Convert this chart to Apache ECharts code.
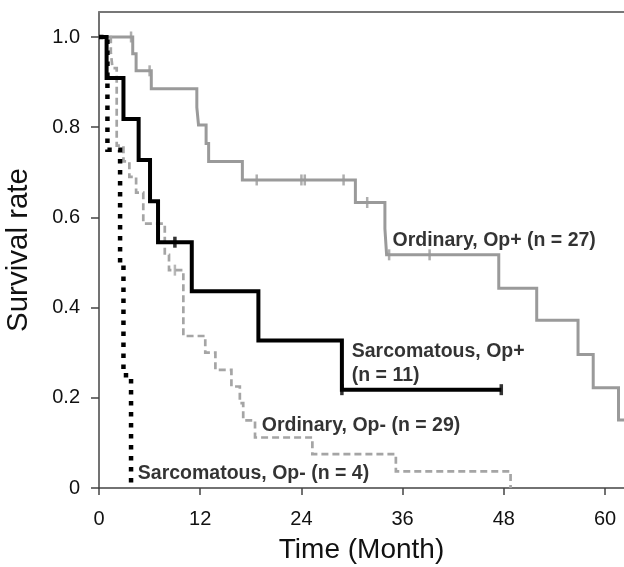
<!DOCTYPE html>
<html><head><meta charset="utf-8">
<script src="https://cdn.jsdelivr.net/npm/echarts@6/dist/echarts.min.js"></script>
<style>html,body{margin:0;padding:0;background:#fff}#c{width:624px;height:567px}</style>
</head><body><div id="c"></div>
<script>
// Ordinary, Op+ (n = 27) — gray solid
const ordPlusTimes = [0, 4.0, 4.4, 6.2, 11.6, 11.8, 12.7, 13.0, 17.0, 30.4, 33.9, 34.1, 47.4, 51.9, 56.8, 58.6, 61.6, 62.3];
const ordPlusSurv  = [1.0, 0.963, 0.925, 0.885, 0.844, 0.805, 0.764, 0.724, 0.683, 0.633, 0.575, 0.517, 0.443, 0.372, 0.296, 0.222, 0.151, 0.151];
const ordPlusCensT = [3.8, 6.0, 18.7, 24.0, 24.4, 29.0, 31.8, 34.4, 39.2];
const ordPlusCensS = [1.0, 0.925, 0.683, 0.683, 0.683, 0.683, 0.633, 0.517, 0.517];
// Sarcomatous, Op+ (n = 11) — black solid
const sarPlusTimes = [0, 0.9, 2.9, 4.7, 6.05, 7.0, 11.0, 18.9, 28.8, 47.7];
const sarPlusSurv  = [1.0, 0.909, 0.818, 0.727, 0.636, 0.545, 0.436, 0.327, 0.218, 0.218];
const sarPlusCensT = [9.0, 28.8, 47.7];
const sarPlusCensS = [0.545, 0.218, 0.218];
// Ordinary, Op- (n = 29) — gray dashed
const ordMinusTimes = [0, 1.4, 1.6, 2.1, 2.9, 3.6, 4.4, 5.25, 7.8, 8.3, 10.0, 12.6, 13.8, 15.7, 16.7, 17.1, 18.5, 25.3, 35.2, 48.8];
const ordMinusSurv  = [1.0, 0.966, 0.931, 0.759, 0.724, 0.690, 0.655, 0.586, 0.517, 0.483, 0.337, 0.300, 0.262, 0.225, 0.188, 0.150, 0.112, 0.075, 0.037, 0];
const ordMinusCensT = [9.0];
const ordMinusCensS = [0.483];
// Sarcomatous, Op- (n = 4) — black dotted
const sarMinusTimes = [0, 1.0, 2.5, 2.9, 3.8];
const sarMinusSurv  = [1.0, 0.75, 0.5, 0.25, 0];
// Axis ticks
const xTicks = [0, 12, 24, 36, 48, 60];
const yTicks = [0, 0.2, 0.4, 0.6, 0.8, 1.0];
// Curve labels [text, x, y]
const curveLabels = [
  ['Ordinary, Op+ (n = 27)', 34.8, 0.548],
  ['Sarcomatous, Op+', 29.97, 0.302],
  ['(n = 11)', 29.97, 0.250],
  ['Ordinary, Op- (n = 29)', 19.3, 0.138],
  ['Sarcomatous, Op- (n = 4)', 4.6, 0.031]
];

const zip = (a, b) => a.map((v, i) => [v, b[i]]);
const FONT = 'Liberation Sans, Arial, sans-serif';
const GRAY = '#9a9a9a';
const axisCol = '#444';

const chart = echarts.init(document.getElementById('c'), null, {renderer: 'canvas'});
const lineS = (name, t, s, color, width, type, z) => ({
  name, type: 'line', step: 'end', data: zip(t, s), showSymbol: false, symbol: 'none',
  lineStyle: {color, width, type, cap: 'butt', join: 'miter'}, z, animation: false, silent: true
});
const censS = (t, s, color, w, h, z) => ({
  type: 'scatter', data: zip(t, s), symbol: 'rect', symbolSize: [w, h],
  itemStyle: {color}, z, animation: false, silent: true
});

chart.setOption({
  animation: false,
  grid: {left: 99, top: 12, right: 0, bottom: 79, containLabel: false, outerBoundsMode: 'none'},
  xAxis: [{
    type: 'value', min: 0, max: 62.25, position: 'bottom',
    axisLine: {show: true, lineStyle: {color: axisCol, width: 1.5}},
    axisTick: {show: true, length: 7, customValues: xTicks, lineStyle: {color: axisCol, width: 1.5}},
    axisLabel: {customValues: xTicks, margin: 21, fontSize: 20, color: '#111', fontFamily: FONT},
    splitLine: {show: false},
    name: 'Time (Month)', nameLocation: 'middle', nameGap: 48,
    nameTextStyle: {fontSize: 28, color: '#111', fontFamily: FONT}
  }, {
    type: 'value', min: 0, max: 62.25, position: 'top',
    axisLine: {show: true, lineStyle: {color: '#777', width: 2}},
    axisTick: {show: false}, axisLabel: {show: false}, splitLine: {show: false}
  }],
  yAxis: {
    type: 'value', min: 0, max: 1.0554,
    axisLine: {show: true, lineStyle: {color: axisCol, width: 1.5}},
    axisTick: {show: true, length: 8, customValues: yTicks, lineStyle: {color: axisCol, width: 1.5}},
    axisLabel: {customValues: yTicks, margin: 19, fontSize: 20, color: '#111', fontFamily: FONT,
      formatter: v => v === 0 ? '0' : v.toFixed(1)},
    splitLine: {show: false},
    name: 'Survival rate', nameLocation: 'middle', nameGap: 65, nameRotate: 90,
    nameTextStyle: {fontSize: 29.5, color: '#111', fontFamily: FONT}
  },
  series: [
    lineS('Ordinary, Op+', ordPlusTimes, ordPlusSurv, GRAY, 3, 'solid', 2),
    censS(ordPlusCensT, ordPlusCensS, GRAY, 2.5, 11, 2),
    lineS('Ordinary, Op-', ordMinusTimes, ordMinusSurv, '#a5a5a5', 2.7, [7, 4], 3),
    censS(ordMinusCensT, ordMinusCensS, '#a5a5a5', 2.5, 11, 3),
    lineS('Sarcomatous, Op-', sarMinusTimes, sarMinusSurv, '#000', 4.5, [4.5, 6.5], 4),
    lineS('Sarcomatous, Op+', sarPlusTimes, sarPlusSurv, '#000', 4, 'solid', 5),
    censS(sarPlusCensT, sarPlusCensS, '#000', 3.5, 11, 5),
    {
      type: 'scatter', symbolSize: 0, z: 10, silent: true, animation: false,
      data: curveLabels.map(l => ({value: [l[1], l[2]], label: {formatter: l[0]}})),
      label: {show: true, position: 'right', distance: 0, fontSize: 19.5, fontWeight: 'bold',
        color: '#000', fontFamily: FONT}
    }
  ]
});
</script></body></html>
